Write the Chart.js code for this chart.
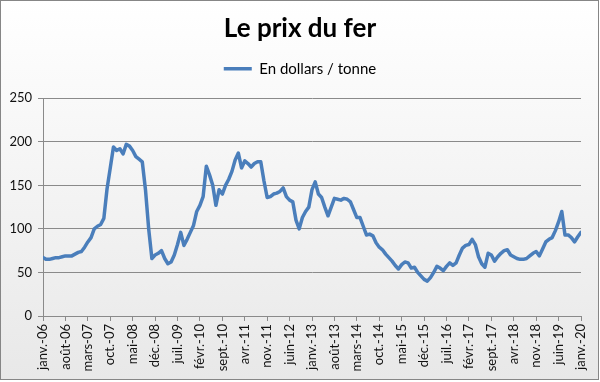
<!DOCTYPE html>
<html>
<head>
<meta charset="utf-8">
<script src="https://cdn.jsdelivr.net/npm/chart.js@4/dist/chart.umd.min.js"></script>
<style>
html,body{margin:0;padding:0;background:#ffffff;}
#wrap{width:600px;height:382px;position:relative;}
</style>
</head>
<body>
<div id="wrap"><canvas id="c" width="600" height="382"></canvas></div>
<script>
// ---- Data ----
const chartTitle = 'Le prix du fer';
const seriesName = 'En dollars / tonne';
const tickLabels = ['janv.-06','août-06','mars-07','oct.-07','mai-08','déc.-08','juil.-09','févr.-10','sept.-10','avr.-11','nov.-11','juin-12','janv.-13','août-13','mars-14','oct.-14','mai-15','déc.-15','juil.-16','févr.-17','sept.-17','avr.-18','nov.-18','juin-19','janv.-20'];
const yTicks = [0, 50, 100, 150, 200, 250];

// monthly prices, janv. to déc. of each year
const p2006 = [67,65,65,66,67,67,68,69,69,69,71,73];
const p2007 = [74,79,85,90,100,103,105,112,146,170,194,190];
const p2008 = [192,186,197,195,190,183,180,177,145,100,66,70];
const p2009 = [72,75,66,60,62,70,82,96,81,88,96,104];
const p2010 = [120,127,137,172,162,150,127,145,140,150,157,166];
const p2011 = [179,187,170,178,175,171,175,177,177,155,136,137];
const p2012 = [140,141,143,147,137,133,131,110,100,113,120,125];
const p2013 = [145,154,140,136,125,115,125,135,134,133,135,134];
const p2014 = [131,122,113,113,103,93,94,92,84,79,76,71];
const p2015 = [67,63,58,54,59,62,61,55,56,50,46,42];
const p2016 = [40,44,50,57,55,52,57,61,58,61,70,78];
const p2017 = [81,82,88,82,68,60,56,72,70,63,68,72];
const p2018 = [75,76,70,68,66,65,65,66,69,72,74,69];
const p2019 = [77,85,88,90,98,108,120,93,93,90,85,91];
const p2020 = [96];

const prices = [].concat(p2006,p2007,p2008,p2009,p2010,p2011,p2012,p2013,p2014,p2015,p2016,p2017,p2018,p2019,p2020);
const points = prices.map((v, i) => ({x: i, y: v}));
const monthsPerTick = 7;

// ---- Styling ----
const FONT = 'Lato, "Liberation Sans", sans-serif';
const gridColor = '#8a8a8a';
const textColor = '#111111';

const bgPlugin = {
  id: 'bg',
  beforeDraw(chart) {
    const ctx = chart.ctx;
    ctx.save();
    ctx.fillStyle = '#ffffff';
    ctx.fillRect(0, 0, chart.width, chart.height);
    const g = ctx.createLinearGradient(0, 0, 0, 380);
    g.addColorStop(0, '#ffffff');
    g.addColorStop(1, '#e8e8e8');
    ctx.fillStyle = g;
    ctx.fillRect(0, 0, 599, 380);
    ctx.strokeStyle = '#868686';
    ctx.lineWidth = 1;
    ctx.strokeRect(0.5, 0.5, 598, 379);
    ctx.restore();
  }
};

new Chart(document.getElementById('c'), {
  type: 'line',
  data: {
    datasets: [{
      label: seriesName,
      data: points,
      xAxisID: 'x',
      yAxisID: 'y',
      borderColor: '#4a7ebb',
      backgroundColor: '#4a7ebb',
      borderWidth: 3.5,
      pointRadius: 0,
      tension: 0,
      borderJoinStyle: 'round',
      borderCapStyle: 'round',
      fill: false
    }]
  },
  options: {
    responsive: false,
    animation: false,
    devicePixelRatio: 1,
    layout: {padding: {left: 0, right: 0, top: 0, bottom: 0}},
    plugins: {
      tooltip: {enabled: false},
      title: {
        display: true,
        text: chartTitle,
        color: '#000000',
        font: {family: FONT, size: 26, weight: 'bold'},
        padding: {top: 13, bottom: 8}
      },
      legend: {
        display: true,
        position: 'top',
        labels: {
          usePointStyle: true,
          pointStyle: 'line',
          pointStyleWidth: 28,
          color: '#000000',
          font: {family: FONT, size: 15},
          padding: 9
        }
      }
    },
    scales: {
      x: {
        type: 'linear',
        position: 'bottom',
        min: 0,
        max: 168,
        afterFit(s) { s.height = 66; },
        ticks: {
          stepSize: monthsPerTick,
          autoSkip: false,
          maxRotation: 90,
          minRotation: 90,
          padding: 3,
          color: textColor,
          font: {family: FONT, size: 13},
          callback: (v) => tickLabels[Math.round(v / monthsPerTick)] ?? ''
        },
        grid: {drawOnChartArea: false, drawTicks: true, tickLength: 5, color: gridColor},
        border: {display: true, color: gridColor}
      },
      gap: {
        type: 'linear',
        position: 'top',
        display: true,
        afterFit(s) { s.height = 12; },
        ticks: {display: false},
        grid: {display: false},
        border: {display: false}
      },
      gapR: {
        type: 'linear',
        position: 'right',
        display: true,
        afterFit(s) { s.width = 19; },
        ticks: {display: false},
        grid: {display: false},
        border: {display: false}
      },
      y: {
        type: 'linear',
        position: 'left',
        min: 0,
        max: 250,
        afterFit(s) { s.width = 43; },
        afterBuildTicks(s) { s.ticks = yTicks.map(v => ({value: v})); },
        ticks: {
          padding: 6,
          color: textColor,
          font: {family: FONT, size: 13}
        },
        grid: {color: gridColor, tickLength: 5, drawTicks: true},
        border: {display: true, color: gridColor}
      }
    }
  },
  plugins: [bgPlugin]
});
</script>
</body>
</html>
